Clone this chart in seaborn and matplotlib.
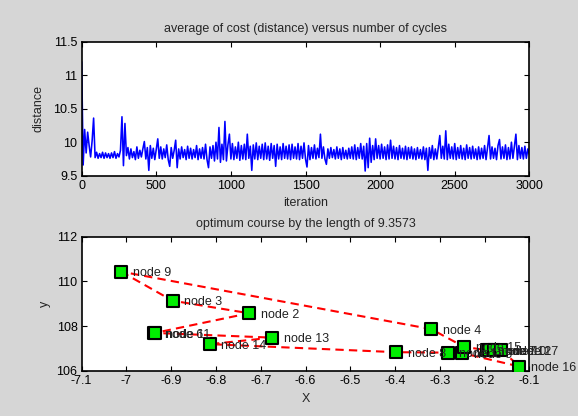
import numpy as np
import matplotlib
matplotlib.use("Agg")
import matplotlib.pyplot as plt
import seaborn as sns

# ---------------- data ----------------
# average cost, sampled every 10 iterations (read off the picture)
avg_cost = [
    11.20, 9.66, 10.19, 9.84, 10.15, 9.95, 9.78, 10.02, 10.36, 9.77, 9.85, 9.76, 9.83, 9.77, 9.85, 9.76, 9.84, 9.77, 9.83, 9.76,
    9.84, 9.77, 9.86, 9.76, 9.83, 9.78, 9.88, 10.38, 9.65, 10.28, 9.80, 9.92, 9.75, 9.90, 9.77, 9.86, 9.74, 9.93, 9.76, 9.88,
    9.78, 9.90, 10.01, 9.75, 9.92, 9.58, 9.95, 9.76, 9.91, 9.74, 9.89, 10.05, 9.76, 9.93, 9.75, 9.90, 9.77, 9.96, 9.74, 9.64,
    9.92, 9.76, 9.88, 10.03, 9.62, 9.90, 9.75, 9.93, 9.77, 9.89, 9.74, 9.94, 9.76, 9.91, 9.75, 9.89, 9.77, 9.95, 9.74, 9.90,
    9.76, 9.92, 9.75, 9.97, 9.74, 9.62, 9.93, 9.76, 9.95, 9.72, 10.00, 9.75, 10.22, 9.70, 9.97, 9.74, 10.31, 9.72, 9.96, 10.12,
    9.75, 9.98, 9.74, 9.93, 9.76, 10.00, 9.73, 9.95, 9.75, 9.97, 9.74, 10.12, 9.76, 9.94, 9.58, 9.96, 9.75, 9.99, 9.74, 9.94,
    9.76, 9.97, 9.74, 9.99, 9.75, 9.94, 9.73, 9.98, 9.76, 9.95, 9.64, 9.97, 9.75, 9.93, 9.74, 9.98, 9.76, 9.94, 9.75, 9.96,
    9.74, 9.97, 9.76, 9.93, 9.75, 9.98, 9.74, 9.94, 9.76, 9.99, 9.75, 9.63, 9.95, 9.74, 9.92, 9.76, 9.96, 9.75, 9.91, 9.77,
    10.12, 9.76, 9.93, 9.75, 9.67, 9.90, 9.76, 9.92, 9.77, 9.89, 9.75, 9.93, 9.76, 9.90, 9.74, 9.92, 9.76, 9.88, 9.75, 9.91,
    9.76, 9.93, 9.75, 9.96, 9.74, 9.92, 9.76, 9.98, 9.75, 9.94, 9.57, 9.98, 9.62, 10.06, 9.70, 9.95, 9.74, 10.05, 9.76, 9.95,
    9.75, 9.97, 9.76, 9.93, 9.74, 9.96, 9.75, 10.03, 9.76, 9.94, 9.75, 9.92, 9.74, 9.95, 9.76, 9.91, 9.75, 9.94, 9.74, 9.92,
    9.76, 9.93, 9.75, 9.90, 9.74, 9.92, 9.76, 9.89, 9.75, 9.93, 9.74, 9.91, 9.58, 9.92, 9.76, 9.95, 9.74, 9.90, 9.75, 9.93,
    10.10, 9.76, 9.94, 9.75, 10.17, 9.74, 9.97, 9.76, 9.93, 9.75, 9.98, 9.74, 9.92, 9.76, 9.95, 9.75, 9.91, 9.74, 9.96, 9.76,
    9.92, 9.75, 9.94, 9.76, 9.90, 9.74, 9.93, 9.75, 9.91, 9.76, 9.95, 9.74, 9.92, 10.10, 9.75, 9.93, 9.76, 9.91, 9.74, 9.95,
    10.04, 9.75, 9.93, 9.76, 9.96, 9.74, 9.92, 9.75, 10.00, 9.76, 9.94, 10.12, 9.74, 9.95, 9.76, 9.92, 9.75, 9.94, 9.76, 9.90,
    9.82,
]
iter_step = 10
iterations = np.arange(len(avg_cost)) * iter_step

node_ids = [1, 2, 3, 4, 5, 6, 7, 8, 9, 10, 11, 12, 13, 14, 15, 16, 17]
node_x = [-6.282, -6.726, -6.897, -6.319, -6.250, -6.939, -6.195, -6.397, -7.012,
          -6.189, -6.937, -6.178, -6.674, -6.814, -6.246, -6.122, -6.163]
node_y = [106.82, 108.58, 109.14, 107.87, 106.80, 107.69, 106.93, 106.84, 110.44,
          106.94, 107.70, 106.94, 107.49, 107.20, 107.08, 106.20, 106.94]
tour = [9, 3, 2, 6, 11, 13, 14, 8, 1, 5, 16, 17, 12, 10, 7, 15, 4, 9]
best_length = "9.3573"

# ---------------- style ----------------
sns.set_style("ticks")
plt.rcParams['font.family'] = ['Liberation Sans', 'DejaVu Sans']
plt.rcParams['font.size'] = 9
bg = '#d6d6d6'

fig = plt.figure(figsize=(5.78, 4.16), dpi=100, facecolor=bg)
ax1 = fig.add_axes([0.1413, 0.5776, 0.7745, 0.3222])
ax2 = fig.add_axes([0.1413, 0.1082, 0.7745, 0.3228])

def matlab_axes(ax):
    ax.set_facecolor('white')
    for s in ax.spines.values():
        s.set_visible(True)
        s.set_color('black')
        s.set_linewidth(1.2)
    ax.tick_params(direction='in', top=True, right=True, length=3.5, width=0.8,
                   labelsize=9, colors='black', pad=3)

# top: convergence
sns.lineplot(x=iterations, y=avg_cost, ax=ax1, color='blue', linewidth=1.15,
             estimator=None, sort=False)
ax1.set_xlim(0, 3000)
ax1.set_ylim(9.5, 11.5)
ax1.set_xticks([0, 500, 1000, 1500, 2000, 2500, 3000])
ax1.set_yticks([9.5, 10, 10.5, 11, 11.5])
ax1.set_yticklabels(['9.5', '10', '10.5', '11', '11.5'])
ax1.set_xlabel('iteration', fontsize=9, labelpad=4)
ax1.set_ylabel('distance', fontsize=9, labelpad=6)
ax1.set_title('average of cost (distance) versus number of cycles', fontsize=9, pad=7)
matlab_axes(ax1)

# bottom: tour
idx = {n: i for i, n in enumerate(node_ids)}
path_x = [node_x[idx[n]] for n in tour]
path_y = [node_y[idx[n]] for n in tour]
sns.lineplot(x=path_x, y=path_y, ax=ax2, sort=False, estimator=None, color='red',
             linewidth=1.5, linestyle=(0, (4, 2.5)))
sns.scatterplot(x=node_x, y=node_y, ax=ax2, marker='s', s=70, color='#00ee00',
                edgecolor='black', linewidth=1.5, zorder=3)
for n, xv, yv in zip(node_ids, node_x, node_y):
    ax2.text(xv + 0.026, yv - 0.07, f'node {n}', fontsize=9, va='center', ha='left',
             color='#222222', zorder=4)
ax2.set_xlim(-7.1, -6.1)
ax2.set_ylim(106, 112)
ax2.set_xticks(np.round(np.arange(-7.1, -6.05, 0.1), 1))
ax2.set_xticklabels([f'{v:g}' for v in np.round(np.arange(-7.1, -6.05, 0.1), 1)])
ax2.set_yticks([106, 108, 110, 112])
ax2.set_xlabel('X', fontsize=9, labelpad=4)
ax2.set_ylabel('y', fontsize=9, labelpad=4)
ax2.set_title(f'optimum course by the length of {best_length}', fontsize=9, pad=7)
matlab_axes(ax2)

fig.savefig('out.png', dpi=100, facecolor=bg)
